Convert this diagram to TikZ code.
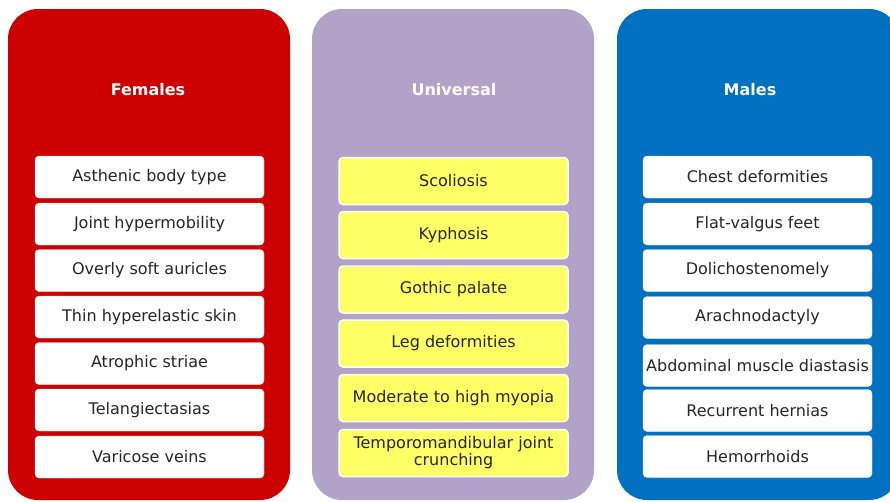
\documentclass[tikz,border=0pt]{standalone}
\usepackage{fontspec}
\setmainfont{DejaVu Sans}
\usepackage{tikz}
\usetikzlibrary{shapes}
\usetikzlibrary{positioning}
\definecolor{fred}{HTML}{CC0000}
\definecolor{upurple}{HTML}{B3A2C7}
\definecolor{mblue}{HTML}{0070C0}
\definecolor{uyellow}{HTML}{FFFF66}
\definecolor{txt}{HTML}{262626}
\tikzstyle{panel}=[rectangle,rounded corners=30pt,minimum width=282pt,minimum height=491pt,inner sep=0pt]
\tikzstyle{heading}=[text=white,font=\fontsize{16}{18}\selectfont\bfseries]
\tikzstyle{sign}=[rectangle,rounded corners=4pt,fill=white,draw=white!90!black,
        minimum width=229pt,minimum height=42pt,inner sep=1pt,text=txt,
        font=\fontsize{16}{18}\selectfont]
\tikzstyle{usign}=[sign,fill=uyellow,draw=white,line width=1.5pt,minimum height=47pt,
        align=center,text=black!85,font=\fontsize{16}{17}\selectfont]

\begin{document}
\begin{tikzpicture}[x=1pt,y=-1pt]
\useasboundingbox (0,0) rectangle (890,501);
%Panneaux
\node[panel,fill=fred] (pf) at (149,254.5) {};
\node[panel,fill=upurple] (pu) at (453,254.5) {};
\node[panel,fill=mblue] (pm) at (758,254.5) {};
\node[heading] (hf) at (148,90) {Females};
\node[heading] (hu) at (454,90) {Universal};
\node[heading] (hm) at (750,90) {Males};
%Females
\node[sign] (f1) at (149.5,177) {Asthenic body type};
\node[sign] (f2) at (149.5,224) {Joint hypermobility};
\node[sign] (f3) at (149.5,270.5) {Overly soft auricles};
\node[sign] (f4) at (149.5,317) {Thin hyperelastic skin};
\node[sign] (f5) at (149.5,363.5) {Atrophic striae};
\node[sign] (f6) at (149.5,410) {Telangiectasias};
\node[sign] (f7) at (149.5,457) {Varicose veins};
%Universal
\node[usign] (u1) at (453.5,181) {Scoliosis};
\node[usign] (u2) at (453.5,235) {Kyphosis};
\node[usign] (u3) at (453.5,289.5) {Gothic palate};
\node[usign] (u4) at (453.5,343.5) {Leg deformities};
\node[usign] (u5) at (453.5,398) {Moderate to high myopia};
\node[usign] (u6) at (453.5,453) {Temporomandibular joint\\crunching};
%Males
\node[sign] (m1) at (757.5,177) {Chest deformities};
\node[sign] (m2) at (757.5,224) {Flat-valgus feet};
\node[sign] (m3) at (757.5,270.5) {Dolichostenomely};
\node[sign] (m4) at (757.5,317.5) {Arachnodactyly};
\node[sign] (m5) at (757.5,365.5) {Abdominal muscle diastasis};
\node[sign] (m6) at (757.5,410.5) {Recurrent hernias};
\node[sign] (m7) at (757.5,456.5) {Hemorrhoids};
\end{tikzpicture}
\end{document}
